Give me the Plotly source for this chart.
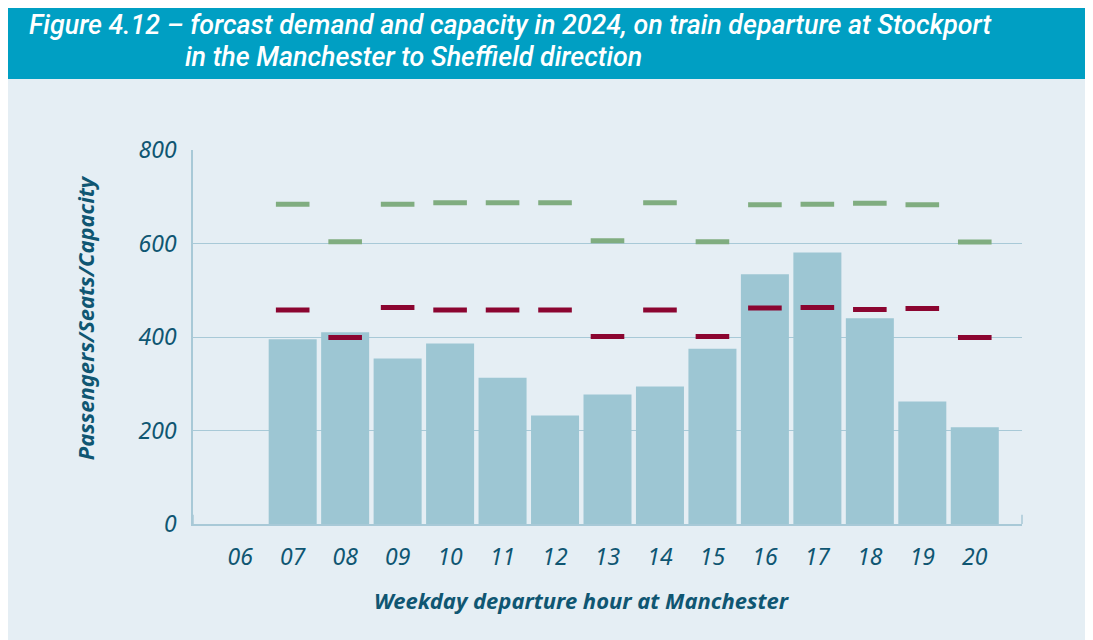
import plotly.graph_objects as go

hours = [6, 7, 8, 9, 10, 11, 12, 13, 14, 15, 16, 17, 18, 19, 20]
hour_labels = ["06", "07", "08", "09", "10", "11", "12", "13", "14", "15", "16", "17", "18", "19", "20"]
passengers = [None, 395, 410, 354, 386, 313, 232, 277, 294, 375, 534, 581, 440, 262, 207]
capacity = [None, 684, 604, 684, 687, 687, 687, 606, 687, 604, 683, 684, 686, 683, 603]
seats = [None, 458, 399, 463, 458, 458, 458, 401, 458, 401, 462, 463, 459, 461, 399]
y_ticks = [0, 200, 400, 600, 800]

text_col = "#0f5672"
grid_col = "#a8c9d7"
fnt = "Noto Sans"

fig = go.Figure()

fig.add_trace(go.Bar(x=hours, y=passengers, marker=dict(color="#9dc6d3", line_width=0),
                     width=0.915, name="Passengers"))

# capacity (green) and seats (red) as short horizontal dashes
fig.add_trace(go.Scatter(x=hours, y=capacity, mode="markers", name="Capacity",
                         marker=dict(symbol="line-ew", size=24, line=dict(width=5, color="#80ad80"))))
fig.add_trace(go.Scatter(x=hours, y=seats, mode="markers", name="Seats",
                         marker=dict(symbol="line-ew", size=24, line=dict(width=5, color="#8b0530"))))

fig.update_xaxes(range=[5.1, 20.9], tickvals=hours, ticktext=hour_labels, showgrid=False,
                 showline=True, linecolor=grid_col, linewidth=1.5, zeroline=False,
                 ticks="", ticklabelstandoff=12,
                 tickfont=dict(family=fnt, size=23, color=text_col, style="italic"))
fig.update_yaxes(range=[0, 800], tickvals=y_ticks, showgrid=True, gridcolor=grid_col, gridwidth=1,
                 showline=True, linecolor=grid_col, linewidth=1.5, zeroline=False,
                 ticks="", ticklabelstandoff=10,
                 tickfont=dict(family=fnt, size=23, color=text_col, style="italic"))

# axis titles (placed as annotations, they sit off-centre in the original)
axis_title_font = dict(family=fnt, size=22, color=text_col, style="italic", weight="bold")
fig.add_annotation(xref="paper", yref="paper", x=-0.130, y=0.551, textangle=-90,
                   xanchor="center", yanchor="middle",
                   showarrow=False, font=axis_title_font, text="Passengers/Seats/Capacity")
fig.add_annotation(xref="paper", yref="paper", x=0.469, y=-0.203,
                   xanchor="center", yanchor="middle",
                   showarrow=False, font=axis_title_font, text="Weekday departure hour at Manchester")

# title banner
fig.add_shape(type="rect", xref="paper", yref="paper", x0=-0.233, x1=1.09, y0=1.19, y1=1.42,
              fillcolor="#009fc3", line_width=0, layer="below")
title_font = dict(family="Roboto", size=26.8, color="white", style="italic", weight=500)
fig.add_annotation(xref="paper", yref="paper", x=-0.2, y=1.334, xanchor="left", yanchor="middle",
                   showarrow=False, font=title_font,
                   text="Figure 4.12 – forcast demand and capacity in 2024, on train departure at Stockport")
fig.add_annotation(xref="paper", yref="paper", x=-0.012, y=1.249, xanchor="left", yanchor="middle",
                   showarrow=False, font=title_font,
                   text="in the Manchester to Sheffield direction")

# small end ticks on the baseline
for xp in [0, 1]:
    fig.add_shape(type="line", xref="paper", yref="paper", x0=xp, x1=xp, y0=0, y1=0.025,
                  line=dict(color=grid_col, width=1.5))

# page body adds an 8px offset, so the figure is 8px smaller
fig.update_layout(width=1085, height=632, showlegend=False,
                  paper_bgcolor="#e5eef4", plot_bgcolor="#e5eef4",
                  margin=dict(l=185, r=71, t=142, b=116), bargap=0.085)

fig.write_html("out.html")
